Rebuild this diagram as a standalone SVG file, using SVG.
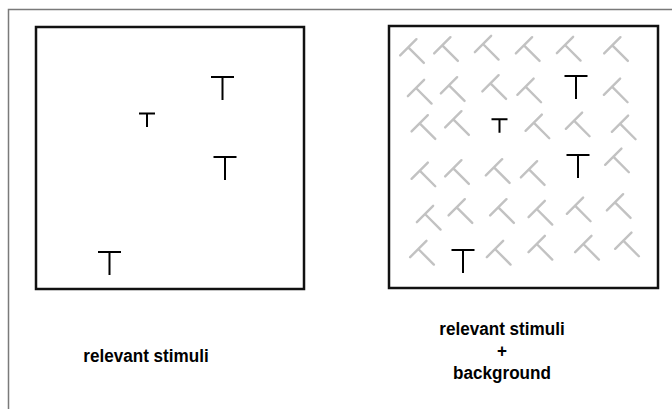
<svg xmlns="http://www.w3.org/2000/svg" width="672" height="409" viewBox="0 0 672 409">
  <style>
    .frame { fill: none; stroke: #7a7a7a; stroke-width: 1.5; }
    .box { fill: #ffffff; stroke: #111111; stroke-width: 2.5; }
    .t { fill: none; stroke: #000000; stroke-width: 2; }
    .d { fill: none; stroke: #c2c2c2; stroke-width: 2.4; stroke-linecap: round; }
    .lbl { font-family: "Liberation Sans", Arial, sans-serif; font-weight: bold; font-size: 19px; fill: #000000; text-anchor: middle; }
  </style>
  <defs>
    <path id="bigT" d="M-11.5,0 H11.5 M0,0 V23"/>
    <path id="smallT" d="M-8,0 H8 M0,0 V13.5"/>
    <path id="grayT" d="M-11.5,0 H11.5 M0,0 V22"/>
  </defs>
  <rect width="672" height="409" fill="#ffffff"/>
  <path class="frame" d="M8.5,409 V9.5 H672"/>

  <g id="panel-relevant">
    <rect class="box" x="36" y="27" width="268" height="262"/>
    <use href="#bigT" class="t" x="222.5" y="77"/>
    <use href="#smallT" class="t" x="147" y="113.5"/>
    <use href="#bigT" class="t" x="225" y="157"/>
    <use href="#bigT" class="t" x="109.5" y="252"/>
  </g>

  <g id="panel-background">
    <rect class="box" x="389" y="26" width="269" height="262"/>
    <g id="distractors">
      <use href="#grayT" class="d" transform="translate(408.3,47.3) rotate(-45)"/>
      <use href="#grayT" class="d" transform="translate(442.3,45.3) rotate(-45)"/>
      <use href="#grayT" class="d" transform="translate(483,44) rotate(-45)"/>
      <use href="#grayT" class="d" transform="translate(524,45.3) rotate(-45)"/>
      <use href="#grayT" class="d" transform="translate(565,45) rotate(-45)"/>
      <use href="#grayT" class="d" transform="translate(612.3,45.3) rotate(-45)"/>

      <use href="#grayT" class="d" transform="translate(416,88) rotate(-45)"/>
      <use href="#grayT" class="d" transform="translate(449,85.3) rotate(-45)"/>
      <use href="#grayT" class="d" transform="translate(490.5,83.3) rotate(-45)"/>
      <use href="#grayT" class="d" transform="translate(525.5,86.7) rotate(-45)"/>
      <use href="#grayT" class="d" transform="translate(612,86.7) rotate(-45)"/>

      <use href="#grayT" class="d" transform="translate(419.7,123.3) rotate(-45)"/>
      <use href="#grayT" class="d" transform="translate(453.3,119.3) rotate(-45)"/>
      <use href="#grayT" class="d" transform="translate(533.7,122.7) rotate(-45)"/>
      <use href="#grayT" class="d" transform="translate(574,120.7) rotate(-45)"/>
      <use href="#grayT" class="d" transform="translate(620,123.7) rotate(-45)"/>

      <use href="#grayT" class="d" transform="translate(419.7,170.7) rotate(-45)"/>
      <use href="#grayT" class="d" transform="translate(453.3,168.3) rotate(-45)"/>
      <use href="#grayT" class="d" transform="translate(494,167.3) rotate(-45)"/>
      <use href="#grayT" class="d" transform="translate(529,169.3) rotate(-45)"/>
      <use href="#grayT" class="d" transform="translate(613.3,156.7) rotate(-45)"/>

      <use href="#grayT" class="d" transform="translate(425,214) rotate(-45)"/>
      <use href="#grayT" class="d" transform="translate(456.7,207.3) rotate(-45)"/>
      <use href="#grayT" class="d" transform="translate(498.3,207.3) rotate(-45)"/>
      <use href="#grayT" class="d" transform="translate(536.7,209) rotate(-45)"/>
      <use href="#grayT" class="d" transform="translate(575,205.7) rotate(-45)"/>
      <use href="#grayT" class="d" transform="translate(615,202.3) rotate(-45)"/>

      <use href="#grayT" class="d" transform="translate(418.3,249) rotate(-45)"/>
      <use href="#grayT" class="d" transform="translate(495,249) rotate(-45)"/>
      <use href="#grayT" class="d" transform="translate(536.7,244) rotate(-45)"/>
      <use href="#grayT" class="d" transform="translate(583.3,244) rotate(-45)"/>
      <use href="#grayT" class="d" transform="translate(623.3,240.7) rotate(-45)"/>
    </g>
    <use href="#bigT" class="t" x="576" y="76"/>
    <use href="#smallT" class="t" x="499.5" y="119.3"/>
    <use href="#bigT" class="t" x="578" y="155"/>
    <use href="#bigT" class="t" x="463" y="250"/>
  </g>

  <g id="labels">
    <text class="lbl" transform="translate(146,362) scale(0.9,1)">relevant stimuli</text>
    <text class="lbl" transform="translate(502,335) scale(0.9,1)">relevant stimuli</text>
    <text class="lbl" transform="translate(502,357) scale(0.9,1)">+</text>
    <text class="lbl" transform="translate(502,379) scale(0.9,1)">background</text>
  </g>
</svg>
